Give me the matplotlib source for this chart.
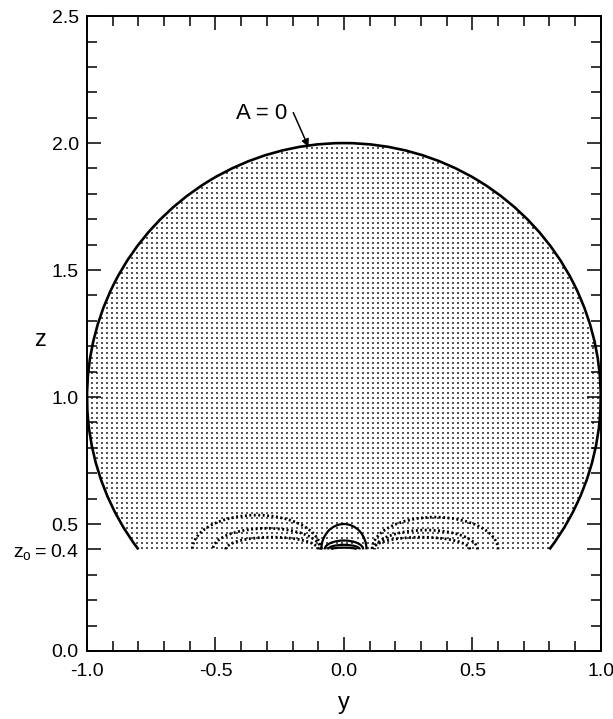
import numpy as np
import matplotlib
matplotlib.use("Agg")
from matplotlib import pyplot as plt
from matplotlib.patches import Arc

plt.rcParams['font.family'] = ['Liberation Sans', 'DejaVu Sans']
plt.rcParams['mathtext.default'] = 'regular'

# boundary circle A = 0 and the cut-off height z0
circle_center = (0.0, 1.0)
circle_radius = 1.0
z0 = 0.4

# dotted contour arches (centre, half width, top height)
dotted_centers = [-0.34, -0.30, -0.28, 0.355, 0.32, 0.30]
dotted_halfwidths = [0.25, 0.21, 0.18, 0.245, 0.20, 0.19]
dotted_tops = [0.535, 0.483, 0.448, 0.527, 0.476, 0.448]

# solid contour arches around y = 0
solid_centers = [0.0, 0.0, 0.0, 0.0]
solid_halfwidths = [0.088, 0.075, 0.062, 0.05]
solid_tops = [0.50, 0.435, 0.418, 0.407]

ytick_vals = [0.0, 0.4, 0.5, 1.0, 1.5, 2.0, 2.5]
ytick_labels = ['0.0', r'$z_o = 0.4$', '0.5', '1.0', '1.5', '2.0', '2.5']
xtick_vals = [-1.0, -0.5, 0.0, 0.5, 1.0]
xtick_labels = ['-1.0', '-0.5', '0.0', '0.5', '1.0']

fig = plt.figure(figsize=(6.13, 7.19), dpi=100)
ax = fig.add_axes([0.142, 0.0946, 0.838, 0.883])
ax.set_xlim(-1.0, 1.0)
ax.set_ylim(0.0, 2.5)

# stippled interior of the circle above z0
cx, cz = circle_center
gx, gz = np.meshgrid(np.arange(-1.0, 1.0, 0.0195), np.arange(z0 + 0.006, 2.0, 0.0197))
inside = ((gx - cx) ** 2 + (gz - cz) ** 2 < (circle_radius - 0.006) ** 2)
ax.scatter(gx[inside], gz[inside], s=0.9, marker='s', color='#555555', linewidths=0, zorder=1)

# circle outline, open below z0
t_cut = np.degrees(np.arcsin((z0 - cz) / circle_radius))
ax.add_patch(Arc(circle_center, 2 * circle_radius, 2 * circle_radius,
                 theta1=t_cut, theta2=180 - t_cut, lw=1.9, color='black', zorder=3))

for c, hw, top in zip(dotted_centers, dotted_halfwidths, dotted_tops):
    ax.add_patch(Arc((c, z0), 2 * hw, 2 * (top - z0), theta1=0, theta2=180,
                     lw=2.0, color='black', linestyle=(0, (0.7, 0.9)), zorder=2))

for c, hw, top in zip(solid_centers, solid_halfwidths, solid_tops):
    ax.add_patch(Arc((c, z0), 2 * hw, 2 * (top - z0), theta1=0, theta2=180,
                     lw=1.6, color='black', zorder=2))

ax.text(-0.32, 2.115, 'A = 0', fontsize=16, ha='center', va='center')
ax.annotate('', xy=(-0.138, 1.985), xytext=(-0.197, 2.12),
            arrowprops=dict(arrowstyle='-|>', color='black', lw=1.1,
                            shrinkA=0, shrinkB=0, mutation_scale=11))

ax.set_xticks(xtick_vals)
ax.set_xticklabels(xtick_labels)
ax.set_yticks(ytick_vals)
ax.set_yticklabels(ytick_labels)
ax.set_xticks(np.arange(-1.0, 1.001, 0.1), minor=True)
ax.set_yticks(np.arange(0.0, 2.501, 0.1), minor=True)
ax.tick_params(which='both', direction='in', top=True, right=True, width=1.1, labelsize=14)
ax.tick_params(which='major', length=10)
ax.tick_params(which='minor', length=7)
ax.tick_params(axis='x', pad=9)
ax.tick_params(axis='y', pad=6)
for sp in ax.spines.values():
    sp.set_linewidth(1.4)

ax.set_xlabel('y', fontsize=17, va='center')
ax.set_ylabel('z', fontsize=17, rotation=0, va='center')
ax.xaxis.set_label_coords(0.5, -0.082)
ax.yaxis.set_label_coords(-0.09, 0.49)

fig.savefig('out.png', dpi=100)
